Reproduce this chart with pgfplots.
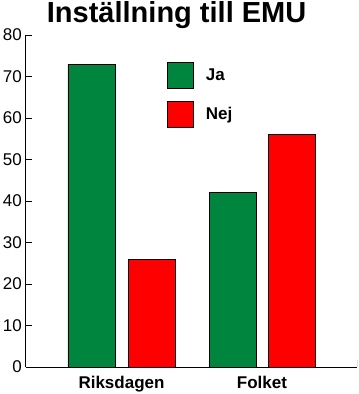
\documentclass[border=0pt]{standalone}
\usepackage{pgfplots}
\pgfplotsset{compat=1.18}
\usepackage{fontspec}
\setmainfont{Liberation Sans}
\definecolor{jagreen}{RGB}{0,133,62}
\definecolor{nejred}{RGB}{255,0,0}
\begin{document}
\begin{tikzpicture}
\begin{axis}[
  scale only axis,
  width=331bp, height=332bp,
  xmin=26, xmax=357, ymin=0, ymax=80,
  enlargelimits=false,
  axis lines*=left,
  axis line style={line width=1bp},
  tick align=inside,
  ytick={0,10,...,80},
  major tick length=6bp,
  tick style={line width=1bp, black},
  xtick={121.5,262},
  xticklabels={Riksdagen,Folket},
  xtick style={draw=none},
  /pgf/number format/assume math mode=true,
  yticklabel style={font=\fontsize{17bp}{20bp}\selectfont, inner sep=0pt, xshift=-4bp},
  xticklabel style={font=\fontsize{17bp}{20bp}\selectfont\bfseries, inner sep=0pt, yshift=-9bp},
  title={Inställning till EMU},
  title style={font=\fontsize{29bp}{33bp}\selectfont\bfseries, at={(axis description cs:0.455,1)}, anchor=base, yshift=6.5bp, inner sep=0pt, text height=21bp},
  legend style={draw=none, fill=none, at={(rel axis cs:0.426,0.919)}, anchor=north west,
    font=\fontsize{17bp}{20bp}\selectfont\bfseries, inner sep=0pt, row sep=12bp,
    cells={anchor=west}},
  legend image code/.code={\draw[#1, draw=black, line width=0.6bp] (0bp,-13bp) rectangle (26bp,13bp); \path (36bp,0bp);},
]
\addplot[ybar, bar width=47, bar shift=0pt, fill=jagreen, draw=black, line width=0.6bp] coordinates {(91.5,73) (232.5,42)};
\addlegendentry{Ja}
\addplot[ybar, bar width=47, bar shift=0pt, fill=nejred, draw=black, line width=0.6bp] coordinates {(151.5,26) (291.5,56)};
\addlegendentry{Nej}
\draw[line width=1bp] (rel axis cs:1,0) -- ([yshift=7bp]rel axis cs:1,0);
\end{axis}
\pgfresetboundingbox
\path[use as bounding box] (-26bp,-27bp) rectangle (333bp,367bp);
\end{tikzpicture}
\end{document}
